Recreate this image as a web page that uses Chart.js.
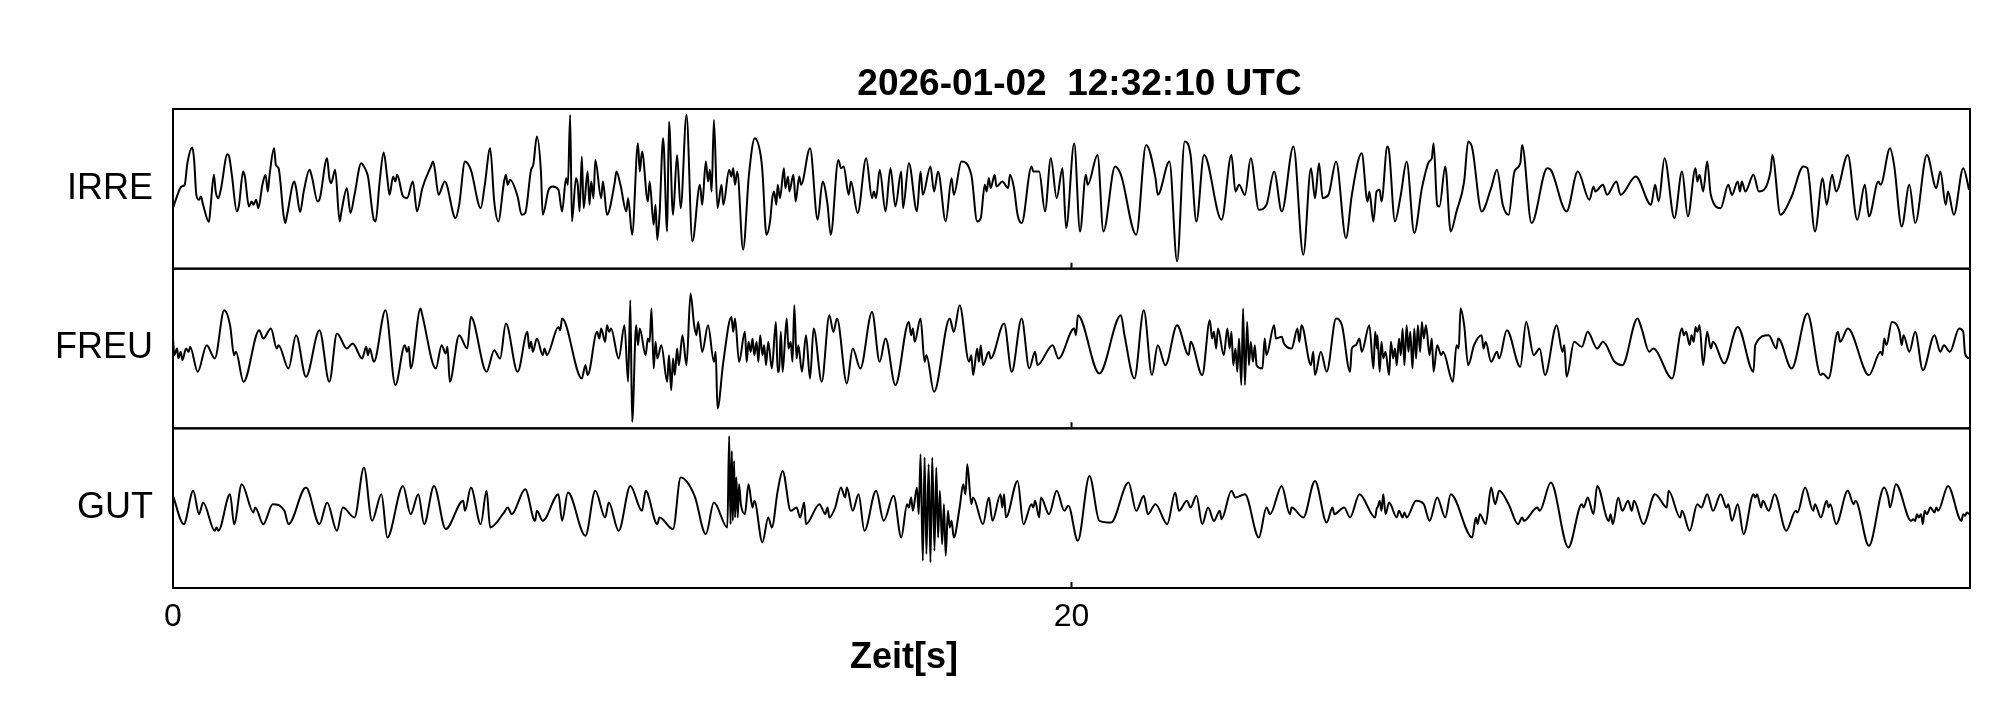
<!DOCTYPE html>
<html>
<head>
<meta charset="utf-8">
<script src="https://cdn.jsdelivr.net/npm/chart.js@4/dist/chart.umd.min.js"></script>
<style>
html,body{margin:0;padding:0;background:#fff;}
canvas{display:block;}
</style>
</head>
<body>
<canvas id="c" width="2005" height="722"></canvas>
<script>
// ---- data (time in s, amplitude in counts) ----
const stations = ['IRRE', 'FREU', 'GUT'];
const xTickValues = [0, 20];
const titleText = '2026-01-02  12:32:10 UTC';
const xTitleText = 'Zeit[s]';
const ampLimit = 240;

const irre = [
[0.00,-58],[0.10,-18],[0.19,7],[0.26,12],[0.32,77],[0.43,124],[0.47,87],[0.52,-18],[0.58,-33],[0.62,-23],[0.67,-48],[0.80,-100],[0.84,-48],[0.91,42],[0.95,-8],[1.01,-28],[1.07,2],[1.21,104],[1.25,97],[1.31,42],[1.42,-68],[1.47,-48],[1.56,52],[1.60,37],[1.69,-53],[1.75,-38],[1.79,-48],[1.85,-33],[1.90,-58],[1.99,12],[2.06,42],[2.11,-8],[2.15,42],[2.25,122],[2.29,72],[2.35,62],[2.46,-78],[2.50,-103],[2.54,-78],[2.70,22],[2.74,2],[2.83,-70],[2.91,-8],[3.04,57],[3.09,37],[3.22,-38],[3.27,-28],[3.43,92],[3.48,32],[3.52,17],[3.61,57],[3.71,-98],[3.75,-68],[3.87,2],[3.95,-73],[4.04,-18],[4.19,77],[4.23,72],[4.27,62],[4.34,37],[4.47,-93],[4.51,-98],[4.60,22],[4.69,109],[4.77,32],[4.82,-18],[4.90,37],[4.95,22],[4.99,42],[5.12,-23],[5.21,-28],[5.34,22],[5.43,-68],[5.55,2],[5.74,67],[5.79,82],[5.83,57],[5.91,-18],[6.05,22],[6.29,-88],[6.37,-48],[6.50,82],[6.63,57],[6.85,-58],[6.94,12],[7.06,122],[7.15,-38],[7.24,-98],[7.37,22],[7.41,42],[7.45,12],[7.50,27],[7.67,-23],[7.76,-78],[7.84,-73],[7.97,57],[8.02,72],[8.10,157],[8.19,52],[8.23,-78],[8.36,-3],[8.45,7],[8.58,-3],[8.66,-68],[8.75,32],[8.79,12],[8.84,222],[8.88,-98],[8.97,32],[9.01,12],[9.05,-68],[9.10,97],[9.14,-58],[9.23,52],[9.27,-48],[9.31,22],[9.36,-28],[9.40,87],[9.53,-28],[9.57,22],[9.66,-78],[9.83,17],[9.87,52],[9.96,12],[10.09,-68],[10.13,-28],[10.22,-138],[10.35,137],[10.39,52],[10.44,112],[10.57,-38],[10.61,22],[10.70,-108],[10.74,-48],[10.78,-153],[10.83,-78],[10.91,152],[11.00,-128],[11.04,202],[11.13,-78],[11.22,102],[11.30,-58],[11.43,222],[11.56,-158],[11.73,12],[11.78,-48],[11.86,82],[11.91,22],[11.95,57],[11.99,-8],[12.04,207],[12.12,-58],[12.21,12],[12.25,-48],[12.38,57],[12.43,37],[12.47,62],[12.51,12],[12.56,52],[12.69,-183],[12.82,42],[12.95,152],[13.08,102],[13.12,52],[13.21,-138],[13.29,-98],[13.34,-28],[13.38,-8],[13.43,-48],
[13.46,12],[13.51,-28],[13.60,62],[13.63,2],[13.69,37],[13.72,-8],[13.81,42],[13.86,-38],[13.94,37],[13.98,12],[14.18,122],[14.35,-93],[14.46,22],[14.57,-48],[14.64,-138],[14.81,87],[14.87,62],[14.93,67],[15.04,-18],[15.09,22],[15.24,-73],[15.43,92],[15.56,-28],[15.60,-8],[15.65,-28],[15.73,57],[15.86,-68],[15.97,62],[16.08,-53],[16.21,52],[16.25,-58],[16.38,77],[16.56,-68],[16.64,52],[16.69,-18],[16.86,67],[16.94,-8],[17.03,52],[17.20,-98],[17.33,32],[17.38,-18],[17.55,82],[17.77,42],[17.90,-98],[17.98,-88],[18.07,12],[18.11,-8],[18.16,32],[18.20,2],[18.29,42],[18.33,7],[18.46,22],[18.59,2],[18.63,42],[18.72,2],[18.80,-78],[18.89,-103],[19.11,67],[19.15,52],[19.28,52],[19.41,-68],[19.54,92],[19.67,-28],[19.80,62],[19.88,-118],[20.06,137],[20.19,-128],[20.32,42],[20.36,12],[20.58,102],[20.71,-128],[20.97,67],[21.10,42],[21.44,-138],[21.66,132],[21.87,32],[21.92,-18],[22.18,82],[22.35,-218],[22.52,142],[22.65,102],[22.78,-98],[22.95,102],[23.34,-93],[23.56,102],[23.65,-8],[23.73,12],[23.86,-18],[23.99,92],[24.17,-63],[24.34,-48],[24.51,52],[24.68,-68],[24.94,127],[25.16,-198],[25.33,62],[25.42,-28],[25.51,77],[25.59,-28],[25.72,-18],[25.89,82],[26.11,-148],[26.24,-18],[26.46,107],[26.59,-38],[26.63,-8],[26.72,-98],
[26.79,-8],[26.86,-3],[26.90,-38],[27.03,127],[27.07,112],[27.20,-98],[27.33,-18],[27.46,82],[27.63,-133],[27.80,2],[27.96,82],[28.02,92],[28.06,137],[28.14,-48],[28.19,-53],[28.32,67],[28.44,-128],[28.57,-68],[28.74,22],[28.83,142],[28.92,122],[29.13,-68],[29.34,2],[29.47,57],[29.60,-48],[29.73,-78],[29.86,52],[29.99,77],[30.03,132],[30.24,-103],[30.59,62],[30.67,57],[31.02,-68],[31.27,52],[31.53,-33],[31.62,7],[31.66,-8],[31.83,12],[31.92,-18],[32.13,22],[32.22,-18],[32.56,37],[32.90,-48],[32.99,12],[33.07,-38],[33.20,92],[33.42,-88],[33.59,52],[33.72,-83],[33.89,62],[33.93,22],[33.98,42],[34.06,-8],[34.15,82],[34.23,-18],[34.45,-58],[34.62,12],[34.70,-18],[34.83,22],[34.88,-8],[34.92,22],[35.00,-8],[35.18,42],[35.30,-8],[35.56,52],[35.60,102],[35.78,-78],[36.03,-23],[36.29,67],[36.38,62],[36.55,-128],[36.72,32],[36.81,-48],[36.93,42],[37.02,-8],[37.28,102],[37.49,-93],[37.66,12],[37.75,-83],[37.96,22],[38.01,12],[38.22,122],[38.31,72],[38.48,-113],[38.65,12],[38.78,-103],[39.04,102],[39.25,2],[39.34,52],[39.46,-48],[39.51,-8],[39.64,-78],[39.85,62],[39.98,-3]
];

const freu = [
[0.00,30],[0.03,-20],[0.09,0],[0.12,-30],[0.17,-10],[0.21,-35],[0.29,0],[0.35,-10],[0.38,5],[0.55,-70],[0.75,10],[0.93,-30],[1.14,115],[1.27,70],[1.36,-20],[1.40,-10],[1.57,-100],[1.92,55],[2.01,30],[2.18,60],[2.31,0],[2.35,10],[2.57,-60],[2.74,40],[2.96,-85],[3.26,55],[3.48,-100],[3.65,45],[3.87,0],[4.00,15],[4.21,-30],[4.30,5],[4.34,-20],[4.38,0],[4.47,-40],[4.73,115],[4.95,-110],[5.16,10],[5.21,-10],[5.25,5],[5.29,-60],[5.51,120],[5.55,100],[5.85,-60],[5.98,10],[6.07,-15],[6.11,5],[6.16,-100],[6.37,40],[6.55,0],[6.63,95],[6.98,-70],[7.15,-5],[7.28,-30],[7.41,75],[7.67,-70],[7.89,50],[7.93,0],[7.97,20],[8.01,-10],[8.10,30],[8.23,-20],[8.27,0],[8.32,-20],[8.58,65],[8.62,55],[8.66,90],[9.10,-90],[9.18,-50],[9.23,-80],[9.44,50],[9.49,30],[9.53,60],[9.62,20],[9.66,70],[9.71,50],[9.75,60],[9.92,-30],[10.05,70],[10.13,-100],[10.18,145],[10.22,-220],[10.31,70],[10.35,10],[10.39,60],[10.52,-20],[10.57,30],[10.61,20],[10.65,120],[10.70,-60],[10.74,20],[10.78,-30],[10.87,10],[11.00,-100],[11.04,-20],[11.09,-125],[11.13,-30],[11.17,-80],[11.22,0],[11.26,-50],[11.34,40],[11.43,-50],[11.52,165],[11.60,70],[11.65,40],[11.69,80],[11.78,-10],[11.91,70],[12.04,-40],[12.08,-10],[12.12,-180],[12.25,-40],[12.43,95],[12.47,50],[12.51,90],[12.60,-40],[12.73,50],[12.77,-40],[12.81,20],[12.86,-10],[12.90,30],[12.94,-20],[12.99,20],[13.03,-40],[13.07,40],[13.12,-20],[13.16,10],[13.20,-50],[13.25,20],[13.33,-60],[13.42,80],[13.46,-70],
[13.49,-70],[13.53,50],[13.57,-70],[13.66,90],[13.70,0],[13.75,20],[13.79,-40],[13.83,130],[13.88,-30],[13.92,10],[14.00,-70],[14.09,40],[14.18,-90],[14.26,60],[14.44,-100],[14.61,100],[14.70,50],[14.78,90],[15.00,-105],[15.13,0],[15.30,-60],[15.56,110],[15.73,-40],[15.86,30],[16.08,-110],[16.38,80],[16.43,40],[16.47,60],[16.51,20],[16.64,90],[16.73,-40],[16.77,-20],[16.94,-130],[17.29,90],[17.38,50],[17.51,130],[17.72,-40],[17.77,-20],[17.81,-80],[17.90,0],[17.94,-40],[17.98,10],[18.03,-50],[18.16,-10],[18.20,-30],[18.50,75],[18.67,-70],[18.89,90],[19.06,-60],[19.19,-10],[19.24,-50],[19.58,10],[19.71,-30],[20.06,60],[20.10,40],[20.14,100],[20.62,-75],[21.10,100],[21.18,40],[21.40,-90],[21.61,115],[21.79,-80],[21.92,10],[22.09,-50],[22.35,70],[22.61,-20],[22.65,20],[22.91,-80],[23.08,85],[23.13,30],[23.17,50],[23.22,0],[23.26,60],[23.39,-20],[23.47,60],[23.52,0],[23.56,50],[23.60,-50],[23.65,0],[23.69,-70],[23.73,30],[23.78,-110],[23.82,120],[23.86,-110],[23.91,80],[23.95,-50],[23.99,20],[24.04,-40],[24.08,10],[24.12,-50],[24.25,-60],[24.30,30],[24.34,-20],[24.51,70],[24.55,30],[24.68,35],[24.73,15],[24.90,0],[25.03,60],[25.07,20],[25.12,70],[25.33,-50],[25.38,-10],[25.42,-80],[25.55,-10],[25.68,-70],[25.89,90],[26.02,70],[26.20,-70],[26.24,0],[26.33,10],[26.41,30],[26.46,-10],[26.63,70],[26.72,-60],[26.76,50],[26.80,0],
[26.81,40],[26.86,-70],[26.90,20],[26.94,-30],[26.99,-10],[27.07,-80],[27.11,20],[27.16,-30],[27.20,0],[27.24,-50],[27.29,30],[27.33,-20],[27.37,60],[27.41,-50],[27.46,70],[27.50,-10],[27.54,50],[27.59,-60],[27.63,60],[27.67,-30],[27.71,70],[27.76,-10],[27.80,80],[27.84,30],[27.89,70],[27.97,-20],[28.02,30],[28.06,-70],[28.14,10],[28.23,-20],[28.27,-10],[28.49,-100],[28.57,10],[28.62,0],[28.66,120],[28.74,70],[28.83,-50],[28.96,10],[29.13,40],[29.17,0],[29.22,20],[29.34,-40],[29.47,-10],[29.52,-30],[29.69,55],[29.99,-55],[30.12,80],[30.29,-20],[30.42,0],[30.54,-80],[30.80,70],[30.93,-10],[30.97,10],[31.02,-85],[31.19,20],[31.36,5],[31.49,50],[31.70,0],[31.83,20],[32.09,-40],[32.26,-50],[32.60,90],[32.69,60],[32.86,-10],[32.95,0],[33.37,-90],[33.59,60],[33.63,40],[33.68,50],[33.76,10],[33.80,40],[33.85,20],[33.89,65],[33.93,50],[33.98,70],[34.06,-50],[34.15,50],[34.23,0],[34.28,20],[34.53,-45],[34.83,65],[35.18,-70],[35.22,10],[35.52,40],[35.69,0],[35.73,30],[36.03,-60],[36.38,105],[36.68,-80],[36.72,-75],[36.85,-90],[37.06,50],[37.11,20],[37.28,60],[37.75,-80],[38.01,-10],[38.05,-20],[38.09,30],[38.14,10],[38.26,80],[38.43,50],[38.48,10],[38.52,40],[38.65,-10],[38.78,50],[38.95,-65],[39.21,40],[39.34,-10],[39.42,10],[39.55,-10],[39.76,60],[39.85,50],[39.89,-15],[39.98,-30]
];

const gut = [
[0.00,37],[0.24,-48],[0.45,52],[0.58,-18],[0.67,17],[0.93,-68],[0.97,-58],[1.01,-68],[1.27,42],[1.36,-48],[1.53,72],[1.79,-13],[1.83,2],[2.01,-48],[2.22,12],[2.48,-8],[2.57,-48],[2.96,62],[3.26,-48],[3.43,17],[3.65,-68],[3.78,2],[4.04,-28],[4.25,122],[4.43,-38],[4.64,42],[4.77,-88],[5.12,67],[5.29,-18],[5.46,42],[5.59,-48],[5.81,67],[6.07,-63],[6.46,22],[6.50,-8],[6.63,62],[6.85,-48],[6.98,52],[7.06,-58],[7.37,-13],[7.45,2],[7.54,-18],[7.84,57],[8.06,-38],[8.10,-8],[8.23,-38],[8.58,42],[8.66,-38],[8.79,47],[9.18,-83],[9.40,52],[9.62,-28],[9.70,17],[9.92,-68],[10.18,67],[10.44,-8],[10.52,52],[10.78,-48],[10.83,-28],[11.13,-63],[11.30,92],[11.61,37],[11.86,-78],[12.04,17],[12.34,-58],[12.38,217],[12.41,-48],[12.44,172],[12.46,-38],[12.49,142],[12.51,-28],[12.54,92],[12.57,-28],[12.60,72],[12.64,12],[12.73,-18],[12.81,72],[12.90,2],[12.94,22],[13.12,-103],[13.25,-28],[13.33,-58],[13.46,52],
[13.57,112],[13.75,-8],[13.88,2],[13.96,-28],[14.05,17],[14.09,-48],[14.39,12],[14.52,-18],[14.57,2],[14.61,-28],[14.74,2],[14.87,62],[14.96,32],[15.00,62],[15.13,-8],[15.26,42],[15.39,-68],[15.65,52],[15.82,-38],[16.04,37],[16.21,-88],[16.34,12],[16.38,2],[16.43,32],[16.47,-8],[16.56,62],[16.60,-18],[16.64,162],[16.69,-158],[16.73,152],[16.77,-138],[16.82,132],[16.86,-163],[16.90,152],[16.95,-128],[16.99,122],[17.03,-88],[17.07,52],[17.12,-108],[17.16,12],[17.20,-143],[17.25,-8],[17.29,-58],[17.33,-38],[17.38,-88],[17.51,2],[17.59,72],[17.64,42],[17.68,132],[17.77,12],[17.81,32],[18.03,-48],[18.16,32],[18.24,-38],[18.42,42],[18.46,2],[18.50,42],[18.54,-28],[18.80,82],[18.93,-48],[19.11,12],[19.15,2],[19.19,22],[19.28,-28],[19.32,32],[19.50,-18],[19.67,52],[19.84,-8],[19.93,7],[20.14,-98],[20.40,97],[20.62,-38],[20.88,-43],[21.27,77],[21.44,-8],[21.61,37],[21.70,-18],[21.87,12],[22.13,-48],[22.31,47],[22.39,-8],[22.57,22],[22.65,2],[22.78,37],[22.91,-48],[23.04,2],[23.17,-38],[23.30,-8],[23.34,-33],[23.56,52],[23.65,32],[23.86,42],[24.17,-88],[24.34,2],[24.42,-18],[24.68,67],[24.86,-18],[24.90,2],[25.16,-28],[25.42,82],[25.68,-43],[25.81,2],[25.85,-18],[26.07,2],[26.20,-28],[26.41,42],[26.76,-28],[26.80,2],
[26.81,2],[26.86,22],[26.90,-8],[26.94,42],[26.99,-18],[27.07,17],[27.24,-28],[27.29,-8],[27.37,-28],[27.41,-13],[27.46,-28],[27.67,22],[27.84,12],[27.97,-38],[28.14,32],[28.32,-28],[28.44,42],[28.92,-88],[29.00,-28],[29.04,-48],[29.09,-18],[29.22,-48],[29.34,62],[29.43,12],[29.52,52],[29.73,12],[29.94,-48],[30.03,-28],[30.07,-38],[30.37,2],[30.42,-8],[30.67,77],[31.06,-118],[31.36,12],[31.40,2],[31.49,32],[31.62,-18],[31.70,67],[31.96,-38],[32.00,-18],[32.05,-48],[32.17,32],[32.26,-8],[32.39,22],[32.47,-8],[32.52,22],[32.73,-48],[32.99,42],[33.20,7],[33.25,2],[33.29,52],[33.55,-28],[33.59,-8],[33.76,-68],[33.93,12],[34.02,2],[34.15,42],[34.28,-8],[34.45,42],[34.58,2],[34.62,12],[34.70,-38],[34.83,12],[34.96,-78],[35.18,42],[35.22,32],[35.26,42],[35.35,2],[35.39,22],[35.52,-8],[35.65,42],[35.91,-68],[36.12,-8],[36.16,-13],[36.33,62],[36.51,-8],[36.55,12],[36.68,-28],[36.81,22],[36.85,2],[36.89,12],[37.02,-48],[37.28,52],[37.41,12],[37.45,22],[37.75,-113],[38.09,62],[38.18,32],[38.22,2],[38.35,72],[38.69,-38],[38.74,-33],[38.78,-38],[38.82,-18],[38.86,-28],[38.91,-18],[38.95,-48],[38.99,-8],[39.04,-18],[39.12,2],[39.21,-13],[39.25,2],[39.29,-8],[39.51,67],[39.81,-38],[39.85,-18],[39.89,-23],[39.93,-13],[39.98,-18]
];

const traces = [irre, freu, gut];

// ---- chart ----
Chart.defaults.font.family = '"Liberation Sans", Arial, sans-serif';
Chart.defaults.color = '#000';

const yScales = {};
stations.forEach((name, i) => {
  yScales['y' + i] = {
    type: 'linear',
    position: 'left',
    stack: 'seis',
    stackWeight: 1,
    weight: stations.length - i,
    min: -ampLimit,
    max: ampLimit,
    afterBuildTicks: s => { s.ticks = [{value: 0}]; },
    afterFit: s => { s.width = 173; },
    grid: {display: false, drawTicks: false},
    border: {display: false},
    ticks: {
      callback: () => name,
      font: {size: 36},
      color: '#000',
      padding: 20
    }
  };
});

const framePlugin = {
  id: 'seisFrame',
  afterDatasetsDraw(chart) {
    const {ctx, chartArea: a, scales} = chart;
    ctx.save();
    ctx.strokeStyle = '#000';
    ctx.lineWidth = 2;
    stations.forEach((n, i) => {
      const s = scales['y' + i];
      ctx.strokeRect(a.left, s.top, a.right - a.left, s.bottom - s.top);
      xTickValues.forEach(v => {
        const px = scales.x.getPixelForValue(v);
        ctx.beginPath();
        ctx.moveTo(px, s.bottom);
        ctx.lineTo(px, s.bottom - 6);
        ctx.stroke();
      });
    });
    ctx.fillStyle = '#000';
    ctx.textAlign = 'center';
    ctx.textBaseline = 'alphabetic';
    ctx.font = 'bold 37px "Liberation Sans", Arial, sans-serif';
    ctx.fillText(titleText, (a.left + a.right) / 2 + 8, 95);
    ctx.font = 'bold 36px "Liberation Sans", Arial, sans-serif';
    ctx.fillText(xTitleText, a.left + 731, 668);
    ctx.restore();
  }
};

new Chart(document.getElementById('c'), {
  type: 'line',
  data: {
    datasets: traces.map((tr, i) => ({
      label: stations[i],
      data: tr.map(p => ({x: p[0], y: p[1]})),
      yAxisID: 'y' + i,
      borderColor: '#000',
      borderWidth: 2,
      pointRadius: 0,
      fill: false,
      cubicInterpolationMode: 'monotone'
    }))
  },
  options: {
    responsive: false,
    animation: false,
    devicePixelRatio: 1,
    layout: {padding: {top: 109, right: 35, left: 0, bottom: 0}},
    plugins: {legend: {display: false}, tooltip: {enabled: false}, title: {display: false}},
    scales: Object.assign({
      x: {
        type: 'linear',
        position: 'bottom',
        min: 0,
        max: 40,
        afterBuildTicks: s => { s.ticks = xTickValues.map(v => ({value: v})); },
        afterFit: s => { s.height = 134; },
        grid: {display: false, drawTicks: false},
        border: {display: false},
        ticks: {font: {size: 32}, color: '#000', padding: 10, maxRotation: 0, autoSkip: false}
      }
    }, yScales)
  },
  plugins: [framePlugin]
});
</script>
</body>
</html>
